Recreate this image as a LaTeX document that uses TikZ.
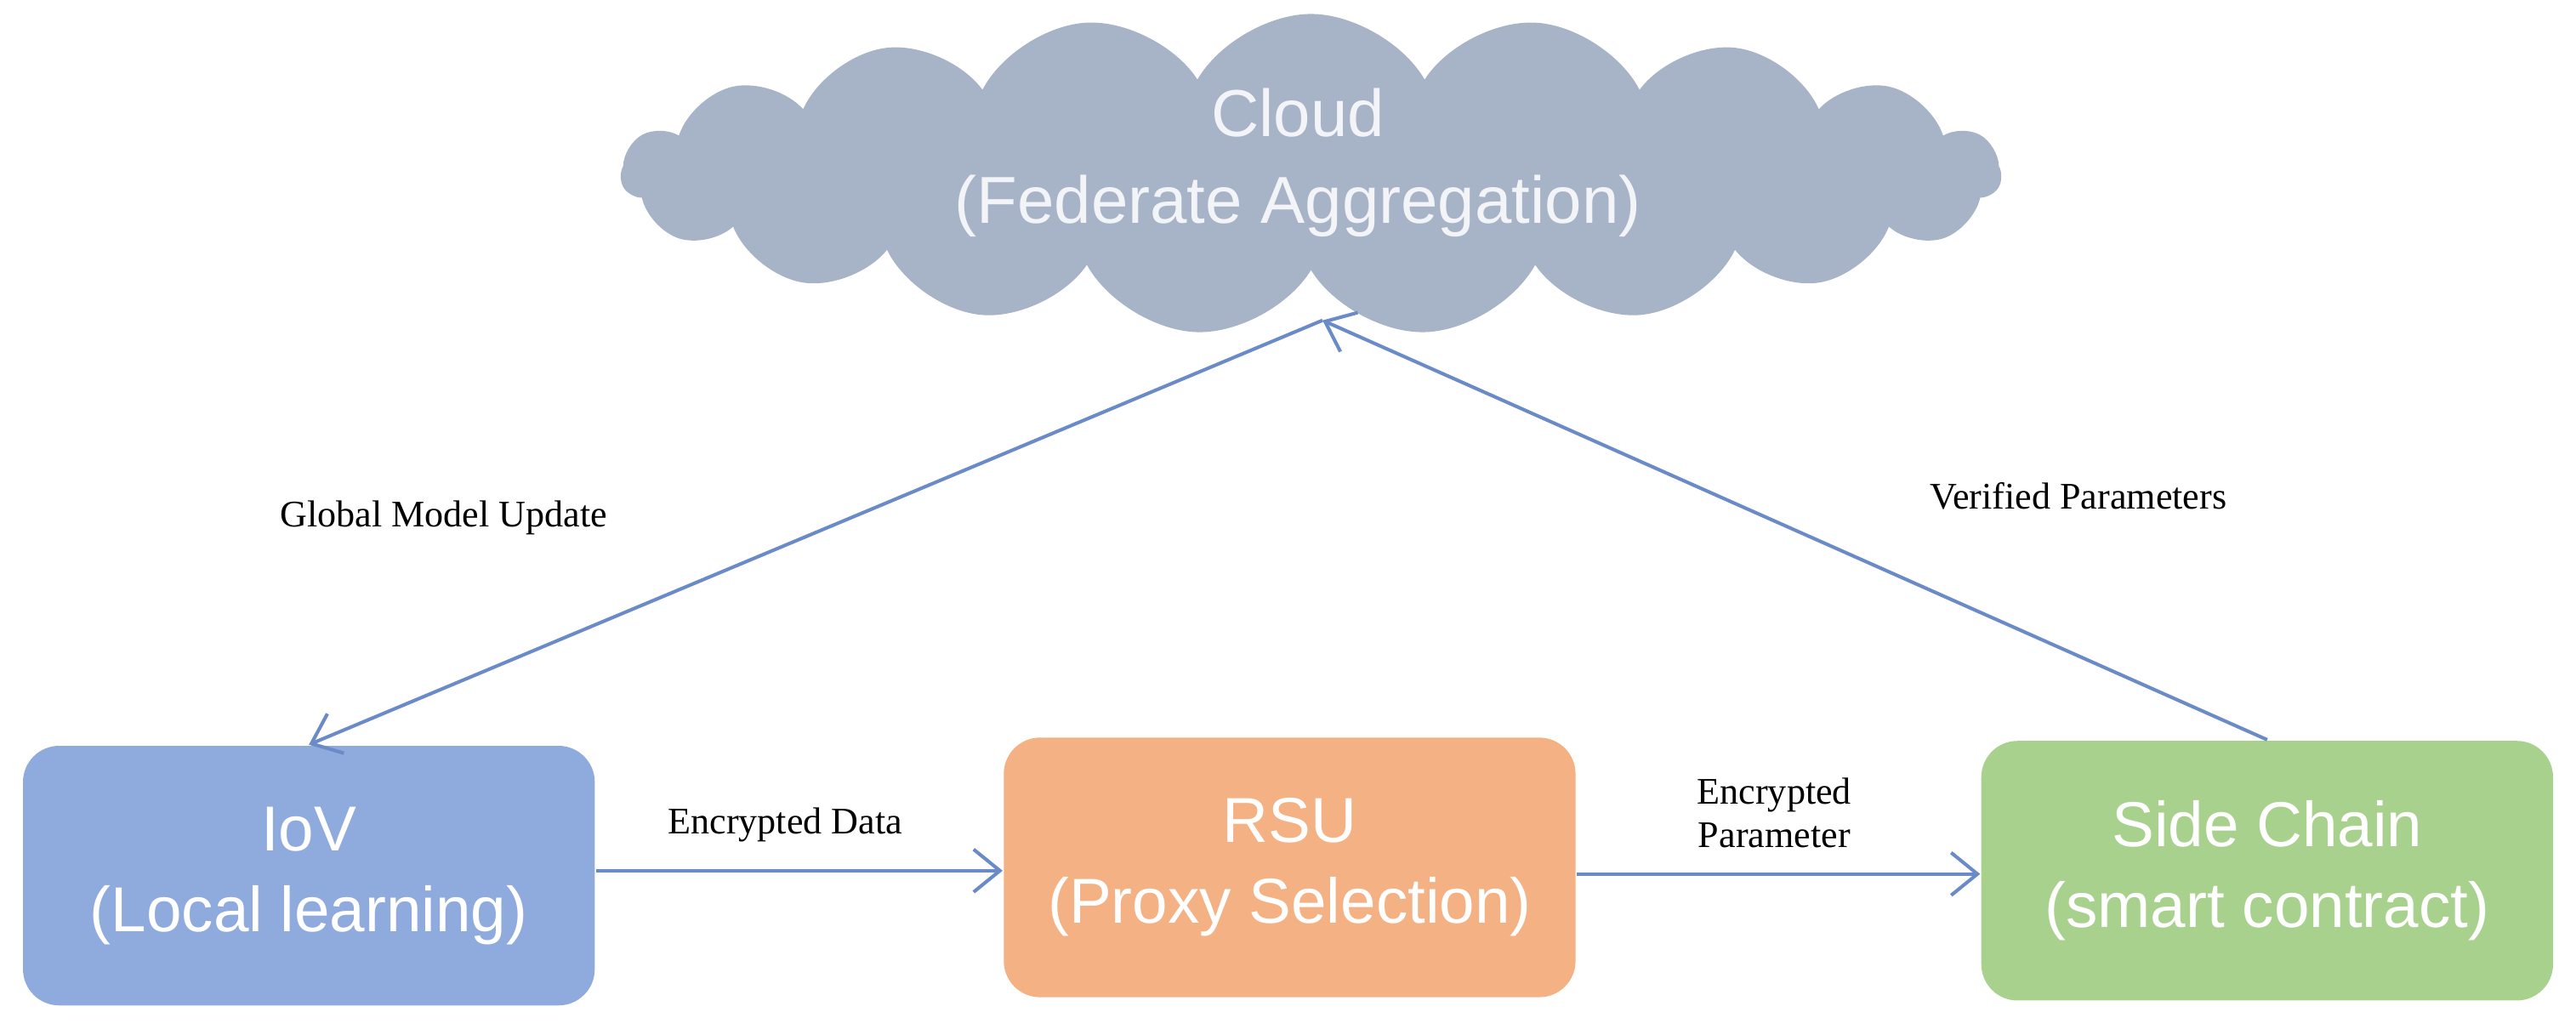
\documentclass[tikz,border=0pt]{standalone}
\usepackage{fontspec}
\setmainfont{Liberation Sans}
\newfontfamily\labelfont{Liberation Serif}
\usetikzlibrary{shapes.symbols,arrows.meta}
\definecolor{iovblue}{HTML}{8FAADC}
\definecolor{rsuorange}{HTML}{F4B183}
\definecolor{sidegreen}{HTML}{A9D18E}
\definecolor{cloudgray}{HTML}{A7B3C7}
\definecolor{linkblue}{HTML}{6A8BC8}
\begin{document}
\begin{tikzpicture}
  \tikzset{
    unit/.style={rounded corners=0.22cm, minimum width=3.48cm, minimum height=1.58cm,
      text=white, font=\fontsize{11}{14}\selectfont, align=center, inner sep=0pt},
    link/.style={draw=linkblue, line width=0.6pt, -{Straight Barb[length=1.6mm,width=2.6mm]}},
    tag/.style={font=\labelfont\fontsize{6.5}{7.5}\selectfont, align=center}
  }
  \useasboundingbox (0,0) rectangle (15.68,6.26);
  % the cloud on top
  \node (cloud) [cloud, cloud puffs=19, cloud puff arc=120, aspect=4.5, fill=cloudgray,
    minimum width=8.4cm, minimum height=1.95cm, inner sep=0pt] at (7.98,5.2) {};
  \node (cloudtext) [text=white!85!cloudgray, font=\fontsize{11.5}{15}\selectfont,
    align=center] at (7.9,5.27) {Cloud\\(Federate Aggregation)};
  \coordinate (cloudfoot) at (8.05,4.31);
  % the three units below
  \node (iov) [unit, fill=iovblue] at (1.88,0.93) {IoV\\(Local learning)};
  \node (rsu) [unit, fill=rsuorange] at (7.85,0.98) {RSU\\(Proxy Selection)};
  \node (side) [unit, fill=sidegreen] at (13.8,0.96) {Side Chain\\(smart contract)};
  % connectors
  \draw[link] (cloudfoot) -- (iov.north);
  \draw[link] (side.north) -- (cloudfoot);
  \draw[link] (iov.east |- 0,0.96) -- (rsu.west |- 0,0.96);
  \draw[link] (rsu.east |- 0,0.94) -- (side.west |- 0,0.94);
  % labels
  \node[tag] (globaltag) at (2.7,3.11) {Global Model Update};
  \node[tag] (verifiedtag) at (12.65,3.24) {Verified Parameters};
  \node[tag] (datatag) at (4.78,1.24) {Encrypted Data};
  \node[tag] (paramtag) at (10.8,1.31) {Encrypted\\Parameter};
\end{tikzpicture}
\end{document}
